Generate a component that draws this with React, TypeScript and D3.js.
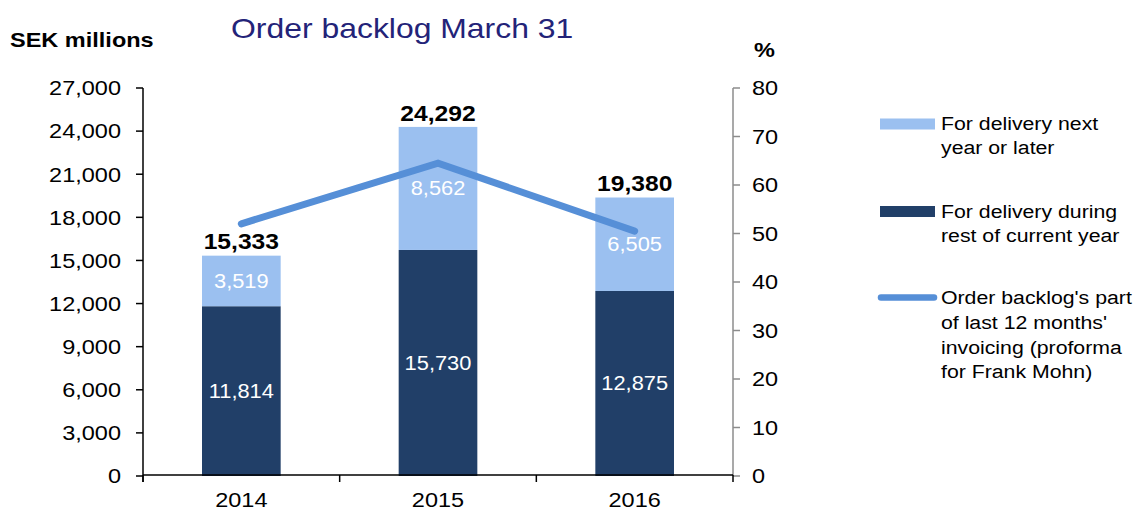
import React from 'react';
import * as d3 from 'd3';

const years = ['2014', '2015', '2016'];
const currentYear = [11814, 15730, 12875];
const nextYear = [3519, 8562, 6505];
const totals = [15333, 24292, 19380];
const sharePct = [52, 64.5, 50.5];
const leftTicks = [0, 3000, 6000, 9000, 12000, 15000, 18000, 21000, 24000, 27000];
const rightTicks = [0, 10, 20, 30, 40, 50, 60, 70, 80];
const legendLight = ['For delivery next', 'year or later'];
const legendDark = ['For delivery during', 'rest of current year'];
const legendLine = ["Order backlog's part", "of last 12 months'", 'invoicing (proforma', 'for Frank Mohn)'];

const W = 1136;
const H = 515;
const SX = 1.12;
const FONT = "'Liberation Sans', Arial, sans-serif";
const LIGHT = '#9BC0F0';
const DARK = '#213F68';
const LINE = '#568FD7';

function T({ x, y, anchor = 'start', size = 20, weight = 'normal', fill = '#000', children }: any) {
  return (
    <g transform={`translate(${x},${y}) scale(${SX},1)`}>
      <text textAnchor={anchor} dy="0.35em" fontSize={size} fontWeight={weight} fill={fill} fontFamily={FONT}>
        {children}
      </text>
    </g>
  );
}

export default function App() {
  const x = d3.scaleBand<string>().domain(years).range([143, 733]).paddingInner(0.6).paddingOuter(0.3);
  const step = x.step();
  const cx = (d: string) => (x(d) as number) + x.bandwidth() / 2;
  const yL = d3.scaleLinear().domain([0, 27000]).range([476, 88]);
  const yR = d3.scaleLinear().domain([0, 80]).range([476, 88]);
  const fmt = d3.format(',');
  const line = d3
    .line<number>()
    .x((_, i) => cx(years[i]))
    .y((d) => yR(d));
  const boundaries = [0, 1, 2, 3].map((i) => 143 + i * step);

  return (
    <svg width={W} height={H} style={{ position: 'absolute', left: 0, top: 0, display: 'block' }}>
      <rect width={W} height={H} fill="#fff" />
      {years.map((yr, i) => (
        <g key={yr}>
          <rect x={x(yr)} width={x.bandwidth()} y={yL(currentYear[i])} height={yL(0) - yL(currentYear[i])} fill={DARK} />
          <rect
            x={x(yr)}
            width={x.bandwidth()}
            y={yL(currentYear[i] + nextYear[i])}
            height={yL(currentYear[i]) - yL(currentYear[i] + nextYear[i])}
            fill={LIGHT}
          />
        </g>
      ))}
      <line x1={143} x2={143} y1={yL(27000)} y2={482} stroke="#000" strokeWidth={1.5} />
      {leftTicks.map((t) => (
        <g key={t}>
          <line x1={136} x2={143} y1={yL(t)} y2={yL(t)} stroke="#000" strokeWidth={1.5} />
          <T x={121} y={yL(t)} anchor="end" size={21}>
            {fmt(t)}
          </T>
        </g>
      ))}
      <line x1={733} x2={733} y1={yR(80)} y2={yR(0)} stroke="#8C8C8C" strokeWidth={1.5} />
      {rightTicks.map((t) => (
        <g key={t}>
          <line x1={733} x2={740} y1={yR(t)} y2={yR(t)} stroke="#8C8C8C" strokeWidth={1.5} />
          <T x={752} y={yR(t)} size={21}>
            {t}
          </T>
        </g>
      ))}
      <line x1={143} x2={733} y1={475} y2={475} stroke="#000" strokeWidth={1.5} />
      {boundaries.map((b, i) => (
        <line key={i} x1={b} x2={b} y1={475} y2={482} stroke="#000" strokeWidth={1.5} />
      ))}
      {years.map((yr) => (
        <T key={yr} x={cx(yr)} y={500} anchor="middle" size={21}>
          {yr}
        </T>
      ))}
      <path d={line(sharePct) as string} fill="none" stroke={LINE} strokeWidth={7} strokeLinecap="round" />
      {years.map((yr, i) => (
        <g key={yr}>
          <T x={cx(yr)} y={(yL(0) + yL(currentYear[i])) / 2} anchor="middle" size={19.5} fill="#fff">
            {fmt(currentYear[i])}
          </T>
          <T
            x={cx(yr)}
            y={(yL(currentYear[i]) + yL(currentYear[i] + nextYear[i])) / 2}
            anchor="middle"
            size={19.5}
            fill="#fff"
          >
            {fmt(nextYear[i])}
          </T>
          <T x={cx(yr)} y={yL(totals[i]) - 14} anchor="middle" size={22} weight="bold">
            {fmt(totals[i])}
          </T>
        </g>
      ))}
      <T x={231} y={28} size={28.5} fill="#232378">
        Order backlog March 31
      </T>
      <T x={10} y={40} size={21} weight="bold">
        SEK millions
      </T>
      <T x={754} y={50} size={21} weight="bold">
        %
      </T>
      <rect x={880} y={118.5} width={55} height={11} fill={LIGHT} />
      {legendLight.map((s, i) => (
        <T key={s} x={941} y={123.5 + i * 23.5} size={19}>
          {s}
        </T>
      ))}
      <rect x={880} y={206} width={55} height={11} fill={DARK} />
      {legendDark.map((s, i) => (
        <T key={s} x={941} y={211.5 + i * 23.5} size={19}>
          {s}
        </T>
      ))}
      <line x1={881} x2={934} y1={297.5} y2={297.5} stroke={LINE} strokeWidth={6.5} strokeLinecap="round" />
      {legendLine.map((s, i) => (
        <T key={s} x={941} y={297.5 + i * 24.7} size={19}>
          {s}
        </T>
      ))}
    </svg>
  );
}
